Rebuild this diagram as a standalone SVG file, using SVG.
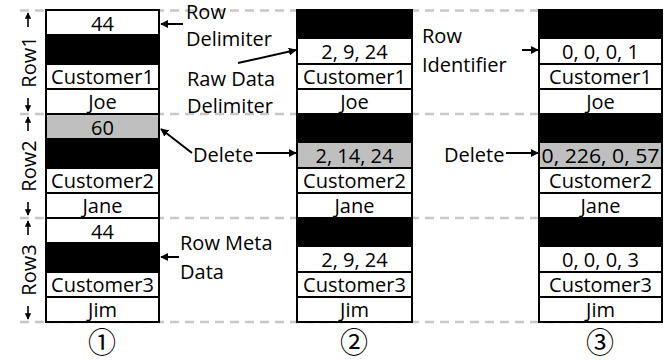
<svg xmlns="http://www.w3.org/2000/svg" width="667" height="360" viewBox="0 0 667 360">
  <style>
    .cell { fill: #fff; stroke: #000; stroke-width: 2; }
    .blk { fill: #000; stroke: #000; stroke-width: 2; }
    .del { fill: #bfbfbf; stroke: #000; stroke-width: 2; }
    .t { font-family: "Open Sans", "Liberation Sans", sans-serif; font-size: 20px; fill: #000; text-anchor: middle; }
    .lbl { font-family: "Open Sans", "Liberation Sans", sans-serif; font-size: 20px; fill: #000; }
    .num { font-family: "Noto Sans CJK JP", "DejaVu Sans", sans-serif; font-size: 28px; fill: #000; text-anchor: middle; }
    .dash { stroke: #c8c8c8; stroke-width: 2.5; stroke-dasharray: 9 6; fill: none; }
    .arr { stroke: #000; stroke-width: 2; fill: none; marker-end: url(#head); }
    .tick { stroke: #000; stroke-width: 1.6; fill: none; marker-end: url(#small); }
  </style>
  <defs>
    <marker id="head" viewBox="0 0 10 10" refX="9" refY="5" markerWidth="4" markerHeight="4" orient="auto" markerUnits="strokeWidth">
      <path d="M0,0 L10,5 L0,10 Z" fill="#000"/>
    </marker>
    <marker id="small" viewBox="0 0 10 10" refX="9" refY="5" markerWidth="4" markerHeight="4" orient="auto" markerUnits="strokeWidth">
      <path d="M0,0 L10,5 L0,10 Z" fill="#000"/>
    </marker>
  </defs>

  <rect width="667" height="360" fill="#fff"/>

  <!-- row boundaries -->
  <g id="row-guides">
    <line class="dash" x1="20" y1="10.5" x2="662" y2="10.5"/>
    <line class="dash" x1="20" y1="114" x2="662" y2="114"/>
    <line class="dash" x1="20" y1="218" x2="662" y2="218"/>
    <line class="dash" x1="20" y1="322" x2="662" y2="322"/>
  </g>

  <!-- row extents on the left -->
  <g id="row-labels">
    <text class="lbl" transform="translate(28,62) rotate(-90)" text-anchor="middle" dominant-baseline="central">Row1</text>
    <text class="lbl" transform="translate(28,166) rotate(-90)" text-anchor="middle" dominant-baseline="central">Row2</text>
    <text class="lbl" transform="translate(28,270) rotate(-90)" text-anchor="middle" dominant-baseline="central">Row3</text>
    <line class="tick" x1="28" y1="27" x2="28" y2="13"/>
    <line class="tick" x1="28" y1="98" x2="28" y2="111"/>
    <line class="tick" x1="28" y1="131" x2="28" y2="117"/>
    <line class="tick" x1="28" y1="202" x2="28" y2="215"/>
    <line class="tick" x1="28" y1="235" x2="28" y2="221"/>
    <line class="tick" x1="28" y1="306" x2="28" y2="319"/>
  </g>

  <!-- layout 1: length-prefixed rows -->
  <g id="layout1">
    <rect class="cell" x="46" y="10" width="113" height="25"/>
    <rect class="blk" x="46" y="35" width="113" height="29"/>
    <rect class="cell" x="46" y="64" width="113" height="25"/>
    <rect class="cell" x="46" y="89" width="113" height="25"/>
    <text class="t" x="102.5" y="31">44</text>
    <text class="t" x="102.5" y="84">Customer1</text>
    <text class="t" x="102.5" y="109">Joe</text>

    <rect class="del" x="46" y="114" width="113" height="25"/>
    <rect class="blk" x="46" y="139" width="113" height="29"/>
    <rect class="cell" x="46" y="168" width="113" height="25"/>
    <rect class="cell" x="46" y="193" width="113" height="25"/>
    <text class="t" x="102.5" y="135">60</text>
    <text class="t" x="102.5" y="188">Customer2</text>
    <text class="t" x="102.5" y="213">Jane</text>

    <rect class="cell" x="46" y="218" width="113" height="25"/>
    <rect class="blk" x="46" y="243" width="113" height="29"/>
    <rect class="cell" x="46" y="272" width="113" height="25"/>
    <rect class="cell" x="46" y="297" width="113" height="25"/>
    <text class="t" x="102.5" y="239">44</text>
    <text class="t" x="102.5" y="292">Customer3</text>
    <text class="t" x="102.5" y="317">Jim</text>
  </g>

  <!-- layout 2: delimiter-separated rows -->
  <g id="layout2">
    <rect class="blk" x="297" y="10" width="115" height="28"/>
    <rect class="cell" x="297" y="38" width="115" height="26"/>
    <rect class="cell" x="297" y="64" width="115" height="25"/>
    <rect class="cell" x="297" y="89" width="115" height="25"/>
    <text class="t" x="354.5" y="59">2, 9, 24</text>
    <text class="t" x="354.5" y="84">Customer1</text>
    <text class="t" x="354.5" y="109">Joe</text>

    <rect class="blk" x="297" y="114" width="115" height="28"/>
    <rect class="del" x="297" y="142" width="115" height="26"/>
    <rect class="cell" x="297" y="168" width="115" height="25"/>
    <rect class="cell" x="297" y="193" width="115" height="25"/>
    <text class="t" x="354.5" y="163">2, 14, 24</text>
    <text class="t" x="354.5" y="188">Customer2</text>
    <text class="t" x="354.5" y="213">Jane</text>

    <rect class="blk" x="297" y="218" width="115" height="28"/>
    <rect class="cell" x="297" y="246" width="115" height="26"/>
    <rect class="cell" x="297" y="272" width="115" height="25"/>
    <rect class="cell" x="297" y="297" width="115" height="25"/>
    <text class="t" x="354.5" y="267">2, 9, 24</text>
    <text class="t" x="354.5" y="292">Customer3</text>
    <text class="t" x="354.5" y="317">Jim</text>
  </g>

  <!-- layout 3: rows with identifiers -->
  <g id="layout3">
    <rect class="blk" x="539" y="10" width="123" height="28"/>
    <rect class="cell" x="539" y="38" width="123" height="26"/>
    <rect class="cell" x="539" y="64" width="123" height="25"/>
    <rect class="cell" x="539" y="89" width="123" height="25"/>
    <text class="t" x="600.5" y="59">0, 0, 0, 1</text>
    <text class="t" x="600.5" y="84">Customer1</text>
    <text class="t" x="600.5" y="109">Joe</text>

    <rect class="blk" x="539" y="114" width="123" height="28"/>
    <rect class="del" x="539" y="142" width="123" height="26"/>
    <rect class="cell" x="539" y="168" width="123" height="25"/>
    <rect class="cell" x="539" y="193" width="123" height="25"/>
    <text class="t" x="600.5" y="163" textLength="118" lengthAdjust="spacingAndGlyphs">0, 226, 0, 57</text>
    <text class="t" x="600.5" y="188">Customer2</text>
    <text class="t" x="600.5" y="213">Jane</text>

    <rect class="blk" x="539" y="218" width="123" height="28"/>
    <rect class="cell" x="539" y="246" width="123" height="26"/>
    <rect class="cell" x="539" y="272" width="123" height="25"/>
    <rect class="cell" x="539" y="297" width="123" height="25"/>
    <text class="t" x="600.5" y="267">0, 0, 0, 3</text>
    <text class="t" x="600.5" y="292">Customer3</text>
    <text class="t" x="600.5" y="317">Jim</text>
  </g>

  <!-- annotations -->
  <g id="label-row-delimiter">
    <text class="lbl" x="186" y="18.5">Row</text>
    <text class="lbl" x="186" y="46">Delimiter</text>
  </g>
  <g id="label-raw-data-delimiter">
    <text class="lbl" x="187" y="86">Raw Data</text>
    <text class="lbl" x="187" y="113">Delimiter</text>
  </g>
  <g id="label-delete-1">
    <text class="lbl" x="193" y="162">Delete</text>
  </g>
  <g id="label-row-meta-data">
    <text class="lbl" x="180" y="250">Row Meta</text>
    <text class="lbl" x="180" y="279">Data</text>
  </g>
  <g id="label-row-identifier">
    <text class="lbl" x="422" y="43">Row</text>
    <text class="lbl" x="422" y="72">Identifier</text>
  </g>
  <g id="label-delete-2">
    <text class="lbl" x="444" y="162">Delete</text>
  </g>

  <!-- connectors -->
  <g id="connectors">
    <line class="arr" x1="183" y1="24" x2="161" y2="24"/>
    <line class="arr" x1="238" y1="63" x2="296" y2="50"/>
    <line class="arr" x1="192" y1="153" x2="161" y2="129"/>
    <line class="arr" x1="256" y1="153" x2="296" y2="153"/>
    <line class="arr" x1="179" y1="257" x2="161" y2="257"/>
    <line class="arr" x1="522" y1="50" x2="538" y2="50"/>
    <line class="arr" x1="506" y1="153" x2="538" y2="153"/>
  </g>

  <!-- layout numbers -->
  <g id="layout-numbers">
    <text class="num" x="102" y="353">①</text>
    <text class="num" x="354" y="353">②</text>
    <text class="num" x="600" y="353">③</text>
  </g>
</svg>
